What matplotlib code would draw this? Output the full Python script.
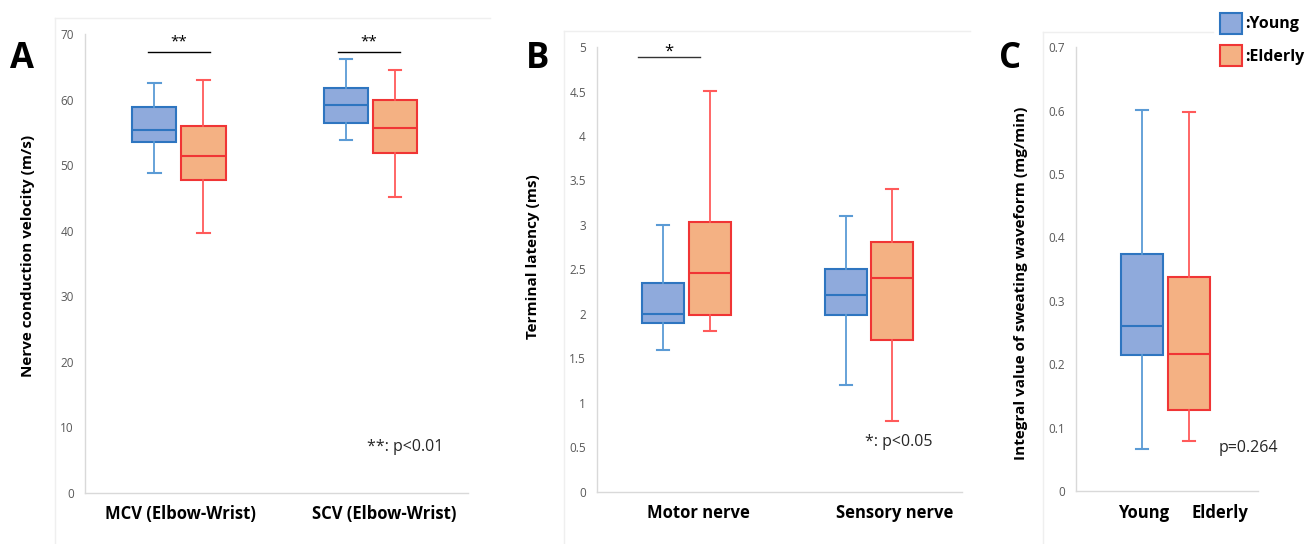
import matplotlib
matplotlib.use("Agg")
import matplotlib.pyplot as plt
from matplotlib.patches import Patch
from matplotlib.lines import Line2D

plt.rcParams["font.family"] = ["Open Sans", "DejaVu Sans"]

# five-number summaries: whisker low, q1, median, q3, whisker high
mcv_young = [48.8, 53.5, 55.4, 58.9, 62.6]
mcv_elderly = [39.7, 47.8, 51.4, 56.0, 63.0]
scv_young = [53.8, 56.5, 59.2, 61.7, 66.2]
scv_elderly = [45.1, 51.8, 55.7, 60.0, 64.5]

motor_young = [1.60, 1.90, 2.00, 2.35, 3.00]
motor_elderly = [1.81, 1.99, 2.46, 3.03, 4.51]
sensory_young = [1.20, 1.99, 2.21, 2.51, 3.10]
sensory_elderly = [0.80, 1.71, 2.41, 2.81, 3.41]

sweat_young = [0.066, 0.214, 0.261, 0.374, 0.601]
sweat_elderly = [0.079, 0.128, 0.216, 0.338, 0.597]

a_labels = ["MCV (Elbow-Wrist)", "SCV (Elbow-Wrist)"]
b_labels = ["Motor nerve", "Sensory nerve"]
c_labels = ["Young", "Elderly"]

BLUE_FILL, BLUE_EDGE, BLUE_WHISK = "#8faadc", "#2e75c0", "#5b9bd5"
RED_FILL, RED_EDGE, RED_WHISK = "#f4b183", "#f03535", "#ff5a5a"
TICK_GREY = "#595959"
AXIS_GREY = "#d9d9d9"


def stats(v):
    return dict(whislo=v[0], q1=v[1], med=v[2], q3=v[3], whishi=v[4], fliers=[])


def draw_group(ax, young, elderly, centers):
    for data, off, fill, edge, wh in [(young, -0.137, BLUE_FILL, BLUE_EDGE, BLUE_WHISK),
                                      (elderly, 0.119, RED_FILL, RED_EDGE, RED_WHISK)]:
        ax.bxp([stats(d) for d in data], positions=[c + off for c in centers],
               widths=0.23, patch_artist=True, showfliers=False,
               boxprops=dict(facecolor=fill, edgecolor=edge, linewidth=1.5),
               medianprops=dict(color=edge, linewidth=1.5),
               whiskerprops=dict(color=wh, linewidth=1.3),
               capprops=dict(color=wh, linewidth=1.5), capwidths=0.066)


def style(ax, ylim, yticks, ylabel, label_xy):
    ax.set_ylim(*ylim)
    ax.set_yticks(yticks)
    ax.tick_params(axis="y", length=0, pad=8, labelsize=8.5, labelcolor=TICK_GREY)
    ax.tick_params(axis="x", length=0, pad=9, labelsize=12)
    for lab in ax.get_xticklabels():
        lab.set_fontweight("bold")
    for s in ["top", "right"]:
        ax.spines[s].set_visible(False)
    for s in ["left", "bottom"]:
        ax.spines[s].set_color(AXIS_GREY)
        ax.spines[s].set_linewidth(1.0)
    ax.set_ylabel(ylabel, fontsize=11, fontweight="bold")
    ax.yaxis.set_label_coords(*label_xy)


fig = plt.figure(figsize=(13.09, 5.44), dpi=100)

# panel A
axA = fig.add_axes([0.0649, 0.09375, 0.2926, 0.84375])
draw_group(axA, [mcv_young, scv_young], [mcv_elderly, scv_elderly], [0, 1])
axA.set_xlim(-0.5, 1.5)
axA.set_xticks([0, 1.06])
axA.set_xticklabels(a_labels)
style(axA, (0, 70), range(0, 71, 10), "Nerve conduction velocity (m/s)", (-0.13, 0.516))
for x0, x1 in [(-0.171, 0.153), (0.821, 1.145)]:
    axA.plot([x0, x1], [67.3, 67.3], color="black", linewidth=1.0)
    axA.text((x0 + x1) / 2, 67.6, "**", ha="center", va="bottom", fontsize=11)
axA.text(0.736, 0.10, "**: p<0.01", transform=axA.transAxes, fontsize=11.5,
         color="#262626", va="center")

# panel B
axB = fig.add_axes([0.4561, 0.0956, 0.2788, 0.818])
draw_group(axB, [motor_young, sensory_young], [motor_elderly, sensory_elderly], [0, 1])
axB.set_xlim(-0.5, 1.5)
axB.set_xticks([0.055, 1.13])
axB.set_xticklabels(b_labels)
style(axB, (0, 5), [0, 0.5, 1, 1.5, 2, 2.5, 3, 3.5, 4, 4.5, 5], "Terminal latency (ms)",
      (-0.156, 0.528))
axB.set_yticklabels(["0", "0.5", "1", "1.5", "2", "2.5", "3", "3.5", "4", "4.5", "5"])
axB.plot([-0.277, 0.064], [4.89, 4.89], color="#333333", linewidth=1.0)
axB.text(-0.107, 4.86, "*", ha="center", va="bottom", fontsize=12)
axB.text(0.734, 0.112, "*: p<0.05", transform=axB.transAxes, fontsize=11.5,
         color="#262626", va="center")

# panel C
axC = fig.add_axes([0.822, 0.0974, 0.139, 0.816])
draw_group(axC, [sweat_young], [sweat_elderly], [0])
axC.set_xlim(-0.5, 0.5)
axC.set_xticks([-0.13, 0.29])
axC.set_xticklabels(c_labels)
style(axC, (0, 0.7), [0, 0.1, 0.2, 0.3, 0.4, 0.5, 0.6, 0.7],
      "Integral value of sweating waveform (mg/min)", (-0.264, 0.468))
axC.set_yticklabels(["0", "0.1", "0.2", "0.3", "0.4", "0.5", "0.6", "0.7"])
axC.text(0.786, 0.097, "p=0.264", transform=axC.transAxes, fontsize=11.5,
         color="#262626", va="center")

# panel letters
for x, letter in [(10, "A"), (526, "B"), (999, "C")]:
    fig.text(x / 1309, 1 - 68 / 544, letter, fontsize=25, fontweight="bold", va="baseline")

# faint chart-area borders
for x, y, x_end in [(55, 18, 490), (564, 31, 970), (1043, 32, 1213)]:
    fig.add_artist(Line2D([x / 1309, x / 1309], [0, 1 - y / 544], color="#efefef", lw=1))
    fig.add_artist(Line2D([x / 1309, x_end / 1309], [1 - y / 544, 1 - y / 544],
                          color="#efefef", lw=1))

handles = [Patch(facecolor=BLUE_FILL, edgecolor=BLUE_EDGE, linewidth=1.5),
           Patch(facecolor=RED_FILL, edgecolor=RED_EDGE, linewidth=1.5)]
fig.legend(handles, [":Young", ":Elderly"], loc="upper left",
           bbox_to_anchor=(1212 / 1309, 1 - 5 / 544), frameon=False, borderpad=0,
           handlelength=1.4, handleheight=1.6, handletextpad=0.15, labelspacing=0.75,
           prop=dict(weight="bold", size=11.5))

fig.savefig("out.png", dpi=100)
